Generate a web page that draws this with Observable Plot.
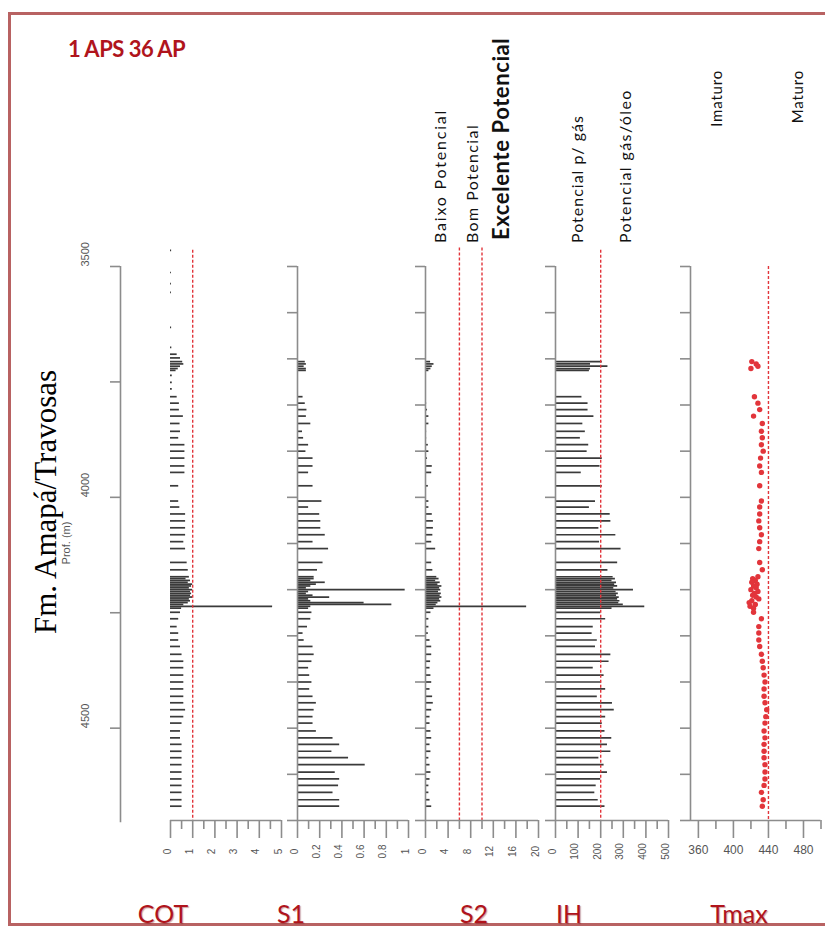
<!DOCTYPE html>
<html><head><meta charset="utf-8">
<script src="https://cdn.jsdelivr.net/npm/d3@7"></script>
<script src="https://cdn.jsdelivr.net/npm/@observablehq/plot@0.6"></script>
<style>
body{margin:0;background:#fff;}
#wrap{position:relative;width:825px;height:930px;overflow:hidden;background:#fff;}
#wrap svg{position:absolute;left:0;top:0;}
.lbl{position:absolute;white-space:nowrap;line-height:1;transform-origin:0 0;}
#frame{position:absolute;left:8px;top:12px;width:900px;height:914px;border:3px solid #b86262;box-sizing:border-box;}
</style></head><body>
<div id="wrap"><div id="frame"></div></div>
<script>
// ---------------- data ----------------
const depth = [3706,3711,3716,3721,3725,
 3782,3796,3810,3824,3840,3857,3871,3886,3900,3915,3932,3946,3975,4008,4021,4036,4051,4066,4081,4096,4111,4141,4157,
 4172,4176,4180,4184,4188,4192,4196,4200,4204,4208,4212,4216,4220,4224,4228,4232,4236,4240,
 4249,4263,4280,4294,4309,4323,4340,4355,4369,4385,4400,4415,4431,4445,4460,4475,4489,4506,4521,4535,4550,4564,4579,4595,4610,4624,4639,4655,4669];

const cot = [0.55,0.6,0.45,0.35,0.25,
 0.3,0.4,0.4,0.58,0.43,0.45,0.37,0.65,0.65,0.65,0.65,0.65,0.37,0.37,0.42,0.68,0.68,0.68,0.68,0.6,0.68,0.75,0.8,
 0.85,0.7,0.9,0.8,1.0,0.95,0.85,1.0,0.9,0.95,0.9,1.0,0.85,0.9,0.8,0.6,4.6,0.5,
 0.45,0.37,0.3,0.37,0.37,0.45,0.52,0.6,0.6,0.6,0.6,0.6,0.6,0.6,0.68,0.6,0.52,0.45,0.45,0.52,0.52,0.52,0.52,0.52,0.52,0.52,0.52,0.52,0.52];

const cotOnlyDepth = [3465,3513,3537,3556,3632,3675,3690,3698,3736,3751,3765];
const cotOnly = [0.05,0.04,0.04,0.04,0.05,0.06,0.3,0.45,0.08,0.08,0.08];

const s1 = [0.07,0.08,0.06,0.08,0.08,
 0.05,0.07,0.085,0.08,0.12,0.045,0.055,0.10,0.076,0.14,0.14,0.10,0.14,0.22,0.10,0.20,0.21,0.21,0.25,0.14,0.28,0.23,0.18,
 0.15,0.15,0.12,0.25,0.17,0.12,0.08,0.97,0.10,0.08,0.14,0.29,0.10,0.12,0.60,0.85,0.12,0.10,
 0.13,0.12,0.09,0.05,0.06,0.14,0.15,0.13,0.10,0.11,0.13,0.11,0.14,0.17,0.15,0.14,0.14,0.17,0.32,0.38,0.31,0.46,0.61,0.34,0.38,0.37,0.32,0.38,0.38];

const s2 = [0.9,1.5,1.2,0.96,0.6,
 0.15,0.2,0.36,0.6,0.6,0.2,0.2,0.5,0.6,0.36,1.2,1.1,0.5,0.6,0.6,1.2,1.4,1.4,1.3,1.1,1.8,1.1,1.3,
 2.0,2.4,1.8,2.6,2.2,2.9,2.5,2.7,2.3,2.8,2.6,2.9,2.5,2.7,2.2,1.9,17.9,1.5,
 0.96,0.6,0.6,0.5,0.8,1.1,1.1,0.9,0.8,0.96,1.1,0.8,1.26,1.38,1.1,0.8,0.8,0.96,1.1,0.8,0.96,0.6,0.8,0.96,0.8,0.6,0.6,0.8,1.1];

const ih = [207,155,232,155,150,
 117,144,144,170,121,132,110,147,140,207,197,114,207,177,150,242,245,192,267,195,290,275,232,
 255,265,250,270,262,275,258,345,268,278,270,282,275,285,280,300,395,250,
 200,222,167,162,185,177,245,237,167,215,204,222,185,252,260,222,207,219,249,230,245,192,215,230,200,180,174,189,219];

const tmax = [421,426,428,420,null,
 424,428,430,423,433,432,433,432,434,431,430,432,430,432,430,430,429,430,432,430,429,430,433,
 428,422,425,421,427,423,426,420,428,424,422,426,429,421,418,425,419,423,
 423,432,429,429,429,430,432,433,434,435,436,435,435,436,438,437,436,435,436,435,435,435,436,436,436,435,432,434,433];

const depthMajor = [3500,4000,4500];
const depthTicks = [3500,3750,4000,4250,4500];
const panelDepthTicks = [3500,3600,3700,3800,3900,4000,4100,4200,4300,4400,4500,4600,4700];

const cotMajor = [0,1,2,3,4,5], cotMinor = [0.5,1.5,2.5,3.5,4.5];
const s1Major = [0,0.2,0.4,0.6,0.8,1], s1Minor = [0.1,0.3,0.5,0.7,0.9];
const s2Major = [0,4,8,12,16,20], s2Minor = [2,6,10,14,18];
const ihMajor = [0,100,200,300,400,500], ihMinor = [50,150,250,350,450];
const tmaxMajor = [360,400,440,480], tmaxMinor = [380,420,460,500];

const cotLimit = [1], s2Limits = [6,10], ihLimit = [200], tmaxLimit = [440];

// ---------------- drawing ----------------
const W = 825, H = 930;
const AX = "#8c8c8c", BAR = "#3a3a3a", RED = "#e2353b", TXT = "#555";
const wrap = document.getElementById("wrap");

function rowsOf(ds, vs) {
  return ds.map((d, i) => ({depth: d, v: vs[i]})).filter(r => r.v != null);
}

function basePlot(x0, x1, domain, marks) {
  const svg = Plot.plot({
    width: W, height: H,
    marginLeft: x0, marginRight: W - x1, marginTop: 266, marginBottom: 110,
    x: {domain, axis: null, label: null},
    y: {domain: [3500, 4700], reverse: true, axis: null, label: null},
    style: {background: "transparent", overflow: "visible", fontFamily: "'Liberation Sans', Arial, sans-serif"},
    marks
  });
  svg.style.position = "absolute"; svg.style.left = "0px"; svg.style.top = "0px";
  wrap.appendChild(svg);
}

function bottomAxis(domain, lineFrom, major, minor, fmt, rotate) {
  return [
    Plot.ruleY([4700], {x1: lineFrom, x2: domain[1], stroke: AX, strokeWidth: 1.6}),
    Plot.axisX({ticks: major, tickSize: 18, tickFormat: () => "", label: null, stroke: AX, strokeWidth: 1.6}),
    Plot.axisX({ticks: minor, tickSize: 9, tickFormat: () => "", label: null, stroke: AX, strokeWidth: 1.6}),
    Plot.text(major, {x: d => d, frameAnchor: "bottom", dy: rotate ? 31 : 33, rotate, text: fmt,
      fontSize: rotate ? 10 : 12, fill: TXT})
  ];
}

function leftAxis(x) {
  return [
    Plot.ruleX([x], {y1: 3500, y2: 4700, stroke: AX, strokeWidth: 1.6}),
    Plot.axisY({ticks: panelDepthTicks, tickSize: 10, tickFormat: () => "", label: null, stroke: AX, strokeWidth: 1.6})
  ];
}

function refLines(vals, top) {
  return Plot.ruleX(vals, {y1: top, y2: 4700, stroke: RED, strokeWidth: 1.4, strokeDasharray: "3,2"});
}

function bars(rows) {
  return Plot.ruleY(rows, {y: "depth", x1: 0, x2: "v", stroke: BAR, strokeWidth: 1.7});
}

// main depth axis
basePlot(120, 140, [0, 1], [
  Plot.ruleX([0], {y1: 3500, y2: 4705, stroke: AX, strokeWidth: 1.6}),
  Plot.axisY({ticks: depthTicks, tickSize: 10, tickFormat: () => "", label: null, stroke: AX, strokeWidth: 1.6}),
  Plot.text(depthMajor, {y: d => d, frameAnchor: "left", dx: -35, rotate: -90, text: d => String(d), fontSize: 11, fill: TXT})
]);

// COT
basePlot(170, 281, [0, 5], [
  bars(rowsOf(cotOnlyDepth, cotOnly)),
  bars(rowsOf(depth, cot)),
  refLines(cotLimit, 3465),
  ...bottomAxis([0, 5], 0, cotMajor, cotMinor, d => String(d), -90)
]);

// S1
basePlot(297, 408, [0, 1], [
  bars(rowsOf(depth, s1)),
  ...leftAxis(0),
  ...bottomAxis([0, 1], 0, s1Major, s1Minor, d => String(d), -90)
]);

// S2
basePlot(425, 538, [0, 20], [
  bars(rowsOf(depth, s2)),
  refLines(s2Limits, 3460),
  ...leftAxis(0),
  ...bottomAxis([0, 20], 0, s2Major, s2Minor, d => String(d), -90)
]);

// IH
basePlot(555, 668, [0, 500], [
  bars(rowsOf(depth, ih)),
  refLines(ihLimit, 3465),
  ...leftAxis(0),
  ...bottomAxis([0, 500], 0, ihMajor, ihMinor, d => String(d), -90)
]);

// Tmax
basePlot(690, 820.5, [351, 500], [
  refLines(tmaxLimit, 3500),
  Plot.dot(rowsOf(depth, tmax), {x: "v", y: "depth", r: 2.7, fill: RED, stroke: "none"}),
  ...leftAxis(351),
  ...bottomAxis([351, 500], 351, tmaxMajor, tmaxMinor, d => String(d), 0)
]);

// ---------------- texts ----------------
function label(txt, x, y, o = {}) {
  const el = document.createElement("div");
  el.className = "lbl";
  el.textContent = txt;
  const a = o.anchor ?? 0;
  el.style.left = x + "px"; el.style.top = y + "px";
  el.style.fontSize = (o.size ?? 14) + "px";
  el.style.fontFamily = o.family ?? "Lato, 'Open Sans', sans-serif";
  el.style.fontWeight = o.weight ?? 400;
  el.style.color = o.color ?? "#111";
  if (o.ls) el.style.letterSpacing = o.ls + "px";
  if (o.shadow) el.style.textShadow = o.shadow;
  el.style.transform = o.rot ? `rotate(${o.rot}deg) translate(${-a * 100}%, -50%)` : `translate(${-a * 100}%, -50%)`;
  wrap.appendChild(el);
}
const DR = "#b0141c";
label("1 APS 36 AP", 68, 49, {size: 22, weight: 700, color: DR, ls: -0.5});
label("Fm. Amapá/Travosas", 45, 502, {rot: -90, anchor: 0.5, size: 31, family: "'Liberation Serif', 'DejaVu Serif', serif", color: "#000"});
label("Prof. (m)", 66, 543, {rot: -90, anchor: 0.5, size: 11, family: "'Liberation Sans', Arial, sans-serif", color: "#555"});

label("Baixo Potencial", 440, 243, {rot: -90, size: 16, ls: 1.8});
label("Bom Potencial", 472, 243, {rot: -90, size: 16, ls: 1.4});
label("Excelente Potencial", 501, 240, {rot: -90, size: 22, weight: 700, ls: 0.6});
label("Potencial p/ gás", 577, 243, {rot: -90, size: 16, ls: 1});
label("Potencial gás/óleo", 625, 243, {rot: -90, size: 16, ls: 1.4});
label("Imaturo", 716, 70, {rot: -90, anchor: 1, size: 15, ls: 0.8});
label("Maturo", 797, 70, {rot: -90, anchor: 1, size: 15, ls: 0.8});

const sh = "1px 1px 1px rgba(120,0,0,0.35)";
const bs = {size: 25, color: DR, shadow: sh, anchor: 0.5};
label("COT", 163, 913, bs);
label("S1", 291, 913, bs);
label("S2", 474, 913, bs);
label("IH", 569, 913, bs);
label("Tmax", 739, 913, bs);
</script>
</body></html>
